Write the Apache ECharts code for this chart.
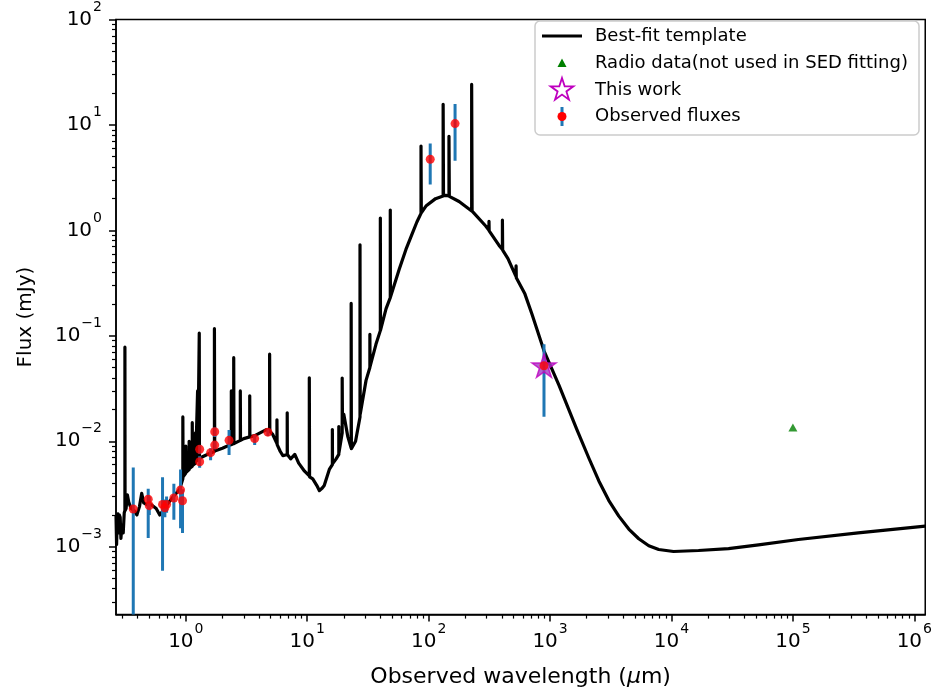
<!DOCTYPE html>
<html><head><meta charset="utf-8">
<script src="https://cdn.jsdelivr.net/npm/echarts@6/dist/echarts.min.js"></script>
<style>html,body{margin:0;padding:0;background:#fff}#c{width:935px;height:693px}</style>
</head><body><div id="c"></div>
<script>
// ---------- data (wavelength in micron, flux in mJy) ----------
const templateWave = [
  0.266,0.269,0.272,0.276,0.279,0.283,0.288,0.292,0.298,0.305,0.311,
  0.315,0.315,0.316,0.322,0.330,0.340,0.355,0.375,0.395,0.415,0.433,0.45,0.48,0.52,0.57,0.61,0.65,0.70,0.79,0.89,
  0.945,0.945,0.95, 1.0,1.0,1.01, 1.065,1.065,1.07, 1.13,1.13,1.135, 1.20,1.20,1.205, 1.25,1.25,1.255, 1.29,1.29,1.295,
  1.40,1.55, 1.72,1.72,1.73, 2.0,2.2, 2.37,2.37,2.38, 2.48,2.48,2.49, 2.81,2.81,2.82, 3.0, 3.36,3.36,3.37, 3.7,4.2,4.6,
  4.9,4.9,4.92, 5.2, 5.63,5.63,5.65, 6.0,6.3, 6.84,6.84,6.86, 7.3,7.9,8.5,9.5, 10.4,10.4,10.45, 11.1,12.0,12.6,13.3,13.8,15.2,
  16.1,16.1,16.15, 17.3, 18.2,18.2,18.25, 19.4,19.4,19.5, 20.0,21.6, 23.0,23.0,23.1, 23.6,25.0, 27.2,27.2,27.3, 30.5,
  32.8,32.8,32.9, 36.8, 40.0,40.0,40.1, 44.6, 48.3,48.3,48.4, 57.3,65,73.5,80, 86.5,86.5,87, 95,114, 131.6,131.6,132.5, 139,
  147,147,148, 178, 226,226,228, 295, 314,314,315, 380, 405,405,407, 450, 521, 525,525,527, 620,711,891,1183,1663,2089,2522,3048,3682,4448,5376,
  6500,7850,10400,16700,29500,52100,111000,345000,1230000
];
const templateFlux = [
  2.0e-3,1.05e-3,1.9e-3,2.05e-3,1.35e-3,2.0e-3,1.9e-3,1.2e-3,1.6e-3,1.35e-3,2.1e-3,
  2.2e-3,0.078,2.2e-3,2.3e-3,3.1e-3,2.6e-3,2.3e-3,2.2e-3,2.0e-3,2.4e-3,3.2e-3,2.6e-3,2.5e-3,2.5e-3,2.3e-3,2.0e-3,2.2e-3,2.5e-3,3.0e-3,3.5e-3,
  4.4e-3,0.017,4.6e-3, 5.0e-3,9.0e-3,5.1e-3, 5.4e-3,0.010,5.5e-3, 5.8e-3,0.015,5.9e-3, 6.2e-3,0.012,6.3e-3, 6.5e-3,0.030,6.6e-3, 6.8e-3,0.106,6.9e-3,
  7.2e-3,7.6e-3, 8.0e-3,0.117,8.1e-3, 8.6e-3,9.0e-3, 9.3e-3,0.030,9.3e-3, 9.5e-3,0.062,9.5e-3, 0.0102,0.030,0.0102, 0.0106, 0.0110,0.027,0.0110, 0.0113,0.0122,0.0129,
  0.0125,0.067,0.0124, 0.0116, 0.0095,0.016,0.0093, 8.0e-3,7.3e-3, 7.5e-3,0.0186,7.5e-3, 6.8e-3,7.5e-3,6.2e-3,5.2e-3, 4.7e-3,0.040,4.6e-3, 4.4e-3,3.8e-3,3.4e-3,3.6e-3,3.8e-3,5.4e-3,
  6.0e-3,0.0129,6.1e-3, 6.8e-3, 7.5e-3,0.0138,7.8e-3, 0.012,0.0397,0.016, 0.018,0.011, 8.6e-3,0.203,8.5e-3, 8.4e-3,0.010, 0.017,0.73,0.018, 0.0378,
  0.050,0.103,0.051, 0.083, 0.112,1.31,0.113, 0.181, 0.23,1.56,0.232, 0.43,0.66,0.94,1.2, 1.45,6.3,1.47, 1.7,2.0, 2.12,15.7,2.13, 2.15,
  2.12,7.8,2.1, 1.88, 1.53,24.2,1.52, 1.1, 1.0,1.22,0.99, 0.72, 0.66,1.25,0.65, 0.54, 0.37, 0.36,0.46,0.355, 0.25,0.159,0.072,0.034,0.0129,6.9e-3,4.2e-3,2.74e-3,1.95e-3,1.47e-3,1.19e-3,
  1.02e-3,0.94e-3,0.90e-3,0.92e-3,0.96e-3,1.04e-3,1.17e-3,1.35e-3,1.57e-3
];
const obsWave = [0.369,0.490,0.500,0.643,0.672,0.694,0.797,0.905,0.939,1.30,1.30,1.60,1.73,1.73,2.27,3.69,4.74,103,165,891];
const obsFlux = [2.28e-3,2.82e-3,2.45e-3,2.52e-3,2.34e-3,2.52e-3,2.9e-3,3.45e-3,2.73e-3,6.4e-3,8.4e-3,7.8e-3,9.2e-3,0.0123,0.0102,0.0106,0.0122,4.73,10.3,0.052];
const obsLow  = [1e-4,1.21e-3,2.0e-3,5.9e-4,1.9e-3,2.1e-3,1.8e-3,1.5e-3,1.35e-3,5.6e-3,7.6e-3,6.6e-3,8.4e-3,0.011,7.4e-3,9.2e-3,0.0112,2.73,4.57,0.0171];
const obsHigh = [5.65e-3,3.55e-3,3.0e-3,4.56e-3,2.8e-3,3.0e-3,3.95e-3,5.4e-3,3.5e-3,7.2e-3,9.2e-3,8.6e-3,0.010,0.0135,0.0128,0.0115,0.013,6.68,15.8,0.083];
const thisWorkWave = [891];
const thisWorkFlux = [0.052];
const radioWave = [1.0e5];
const radioFlux = [0.0135];
const xMajorTicks = [1,10,100,1000,10000,100000,1000000];
const yMajorTicks = [0.001,0.01,0.1,1,10,100];
const minorMult = [2,3,4,5,6,7,8,9];
const legendNames = ['Best-fit template','Radio data(not used in SED fitting)','This work','Observed fluxes'];

// ---------- helpers ----------
function minorTicks(d0, d1) {
  const out = [];
  for (let d = d0; d <= d1; d++) for (const m of minorMult) out.push(parseFloat((m * Math.pow(10, d)).toPrecision(3)));
  return out;
}
const FONT = 'DejaVu Sans';
function supLabel(v) {
  const e = Math.round(Math.log10(v));
  return '{b|10}{s|' + (e < 0 ? '\u2212' + (-e) : e) + '}';
}
const labelRich = {
  b:{fontSize:20, fontFamily:FONT, color:'#000', lineHeight:22, verticalAlign:'middle'},
  s:{fontSize:14, fontFamily:FONT, color:'#000', lineHeight:14, padding:[0,0,25,1], verticalAlign:'middle'}
};
const starPath = 'path://M0,-10 L2.245,-3.09 L9.511,-3.09 L3.633,1.18 L5.878,8.09 L0,3.82 L-5.878,8.09 L-3.633,1.18 L-9.511,-3.09 L-2.245,-3.09 Z';

const xMin = 0.266, xMax = 1.23e6, yMin = 2.27e-4, yMax = 100;
const tickLine = {color:'#000', width:1.5};

const chart = echarts.init(document.getElementById('c'), null, {renderer:'canvas'});
const option = {
  animation: false,
  backgroundColor: '#fff',
  grid: {left:116, right:8, top:13, bottom:75, show:true, borderColor:'#000', borderWidth:1.5, backgroundColor:'transparent'},
  xAxis: [
    {type:'log', logBase:10, min:xMin, max:xMax, position:'bottom',
     axisLine:{show:true, onZero:false, lineStyle:tickLine},
     axisTick:{show:true, inside:false, length:7, lineStyle:tickLine, customValues:xMajorTicks},
     axisLabel:{show:true, customValues:xMajorTicks, margin:16, formatter:supLabel, rich:labelRich},
     splitLine:{show:false},
     name:'Observed wavelength ({i|\u03bc}m)', nameLocation:'middle', nameGap:51,
     nameTextStyle:{fontSize:22, fontFamily:FONT, color:'#000',
       rich:{i:{fontSize:22, fontFamily:FONT, fontStyle:'italic', color:'#000'}}}},
    {type:'log', logBase:10, min:xMin, max:xMax, position:'bottom',
     axisLine:{show:false, onZero:false},
     axisTick:{show:true, inside:false, length:4, lineStyle:{color:'#000', width:1.2}, customValues:minorTicks(-1,6)},
     axisLabel:{show:false}, splitLine:{show:false}}
  ],
  yAxis: [
    {type:'log', logBase:10, min:yMin, max:yMax, position:'left',
     axisLine:{show:true, onZero:false, lineStyle:tickLine},
     axisTick:{show:true, inside:false, length:7, lineStyle:tickLine, customValues:yMajorTicks},
     axisLabel:{show:true, customValues:yMajorTicks, margin:14, formatter:supLabel, rich:labelRich},
     splitLine:{show:false},
     name:'Flux (mJy)', nameLocation:'middle', nameGap:80,
     nameTextStyle:{fontSize:20, fontFamily:FONT, color:'#000'}},
    {type:'log', logBase:10, min:yMin, max:yMax, position:'left',
     axisLine:{show:false, onZero:false},
     axisTick:{show:true, inside:false, length:4, lineStyle:{color:'#000', width:1.2}, customValues:minorTicks(-4,1)},
     axisLabel:{show:false}, splitLine:{show:false}}
  ],
  series: [
    {name:legendNames[0], type:'line', xAxisIndex:0, yAxisIndex:0, showSymbol:false, symbol:'none', sampling:null,
     data: templateWave.map((w,i)=>[w, templateFlux[i]]),
     lineStyle:{color:'#000', width:3.2, join:'round', cap:'butt'}, z:2, clip:true, silent:true},
    {name:'errorbars', type:'custom', xAxisIndex:0, yAxisIndex:0, clip:true, z:3,
     data: obsWave.map((w,i)=>[w, obsLow[i], obsHigh[i]]),
     encode:{x:0, y:[1,2]},
     renderItem:function(params, api){
       const p1 = api.coord([api.value(0), api.value(1)]);
       const p2 = api.coord([api.value(0), api.value(2)]);
       return {type:'line', shape:{x1:p1[0], y1:p1[1], x2:p2[0], y2:p2[1]}, style:{stroke:'#1f77b4', lineWidth:3}};
     }},
    {name:legendNames[2], type:'scatter', xAxisIndex:0, yAxisIndex:0, z:4,
     data: thisWorkWave.map((w,i)=>[w, thisWorkFlux[i]]),
     symbol:starPath, symbolSize:[24,23], itemStyle:{color:'#a33ac6', borderColor:'#bf00bf', borderWidth:1.5}},
    {name:legendNames[3], type:'scatter', xAxisIndex:0, yAxisIndex:0, z:5,
     data: obsWave.map((w,i)=>[w, obsFlux[i]]),
     symbol:'circle', symbolSize:9, itemStyle:{color:'#ff0000'}},
    {name:legendNames[1], type:'scatter', xAxisIndex:0, yAxisIndex:0, z:4,
     data: radioWave.map((w,i)=>[w, radioFlux[i]]),
     symbol:'triangle', symbolSize:[9,8], itemStyle:{color:'#008000'}}
  ],
  graphic: [
    {type:'rect', z:50, shape:{x:535, y:21, width:384, height:114, r:5},
     style:{fill:'rgba(255,255,255,0.85)', stroke:'#cccccc', lineWidth:1.5}},
    {type:'line', z:51, shape:{x1:542, y1:36, x2:582, y2:36}, style:{stroke:'#000', lineWidth:3}},
    {type:'polygon', z:51, shape:{points:[[562,58.5],[566.5,67],[557.5,67]]}, style:{fill:'#008000'}},
    {type:'polygon', z:51, shape:{points:[[562,78],[564.7,86.3],[573.4,86.3],[566.4,91.4],[569,99.7],[562,94.6],[555,99.7],[557.6,91.4],[550.6,86.3],[559.3,86.3]]},
     style:{fill:'#fff', stroke:'#bf00bf', lineWidth:1.8}},
    {type:'line', z:51, shape:{x1:562, y1:107, x2:562, y2:126}, style:{stroke:'#1f77b4', lineWidth:3}},
    {type:'circle', z:52, shape:{cx:562, cy:116.5, r:4.5}, style:{fill:'#ff0000'}},
    {type:'text', z:52, x:595, y:36, style:{text:legendNames[0], fontSize:18, fontFamily:FONT, fill:'#000', verticalAlign:'middle', align:'left'}},
    {type:'text', z:52, x:595, y:63, style:{text:legendNames[1], fontSize:18, fontFamily:FONT, fill:'#000', verticalAlign:'middle', align:'left'}},
    {type:'text', z:52, x:595, y:90, style:{text:legendNames[2], fontSize:18, fontFamily:FONT, fill:'#000', verticalAlign:'middle', align:'left'}},
    {type:'text', z:52, x:595, y:116, style:{text:legendNames[3], fontSize:18, fontFamily:FONT, fill:'#000', verticalAlign:'middle', align:'left'}}
  ]
};
chart.setOption(option);
</script></body></html>
